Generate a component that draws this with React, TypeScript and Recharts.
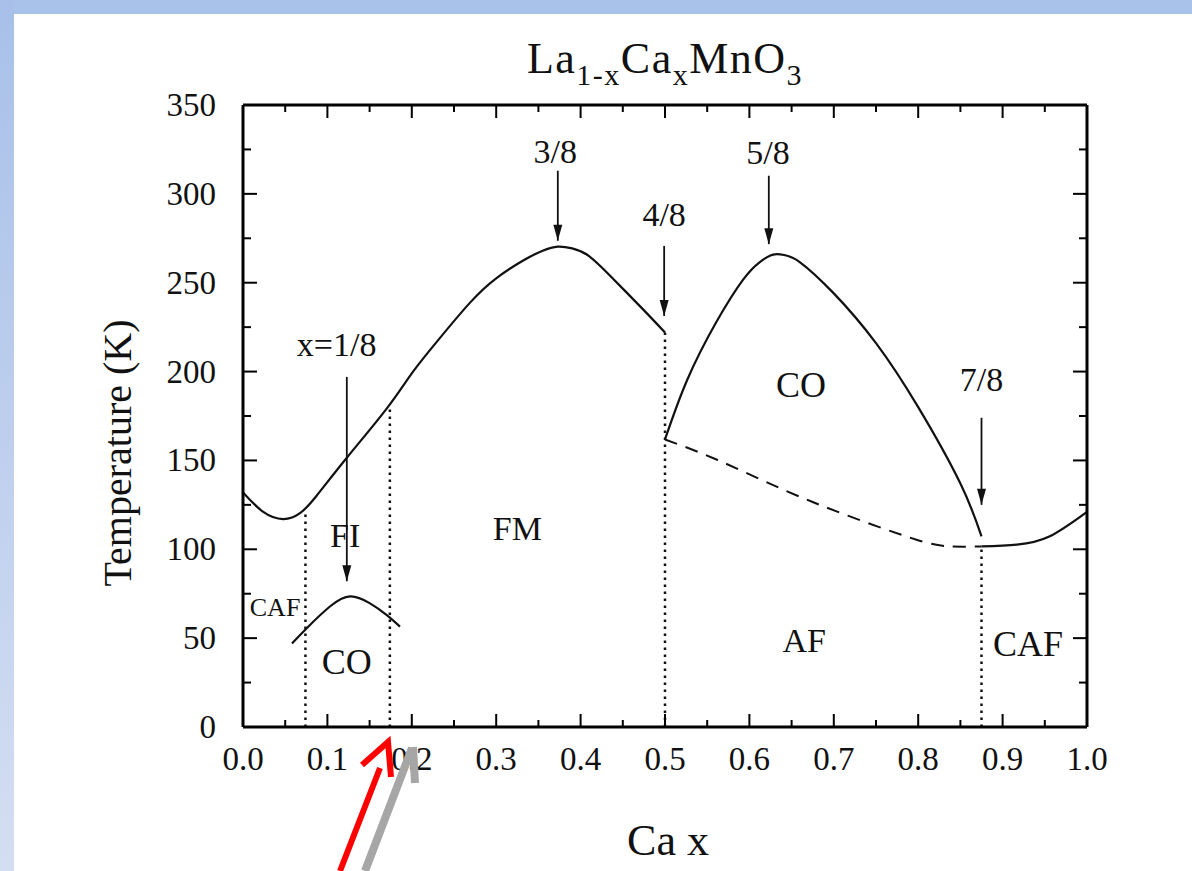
import React from "react";
import { LineChart, Line, XAxis, YAxis, ReferenceLine, ReferenceDot } from "recharts";

const FONT = "'Liberation Serif', 'Times New Roman', serif";

// axis ticks
const xTicks = [0, 0.05, 0.1, 0.15, 0.2, 0.25, 0.3, 0.35, 0.4, 0.45, 0.5, 0.55, 0.6, 0.65, 0.7, 0.75, 0.8, 0.85, 0.9, 0.95, 1.0];
const xMajor = [0, 0.1, 0.2, 0.3, 0.4, 0.5, 0.6, 0.7, 0.8, 0.9, 1.0];
const yTicks = [0, 25, 50, 75, 100, 125, 150, 175, 200, 225, 250, 275, 300, 325, 350];
const yMajor = [0, 50, 100, 150, 200, 250, 300, 350];

// phase boundaries (x = Ca content, t = temperature K)
const fmBoundary = [
  { x: 0, t: 132 }, { x: 0.024, t: 121 }, { x: 0.048, t: 117 }, { x: 0.068, t: 120.5 },
  { x: 0.087, t: 130 }, { x: 0.123, t: 151.5 }, { x: 0.17, t: 179 }, { x: 0.2, t: 199 },
  { x: 0.23, t: 217 }, { x: 0.269, t: 238.8 }, { x: 0.3, t: 252.5 }, { x: 0.332, t: 262.5 },
  { x: 0.355, t: 268 }, { x: 0.373, t: 270.3 }, { x: 0.39, t: 269.3 }, { x: 0.41, t: 265 },
  { x: 0.439, t: 252 }, { x: 0.474, t: 235 }, { x: 0.5, t: 222 },
];
const coLowDome = [
  { x: 0.058, t: 47 }, { x: 0.0755, t: 55.6 }, { x: 0.103, t: 67.8 }, { x: 0.127, t: 73.5 },
  { x: 0.15, t: 69.7 }, { x: 0.17, t: 63.1 }, { x: 0.186, t: 56.5 },
];
const coHighDome = [
  { x: 0.5, t: 161.8 }, { x: 0.526, t: 195 }, { x: 0.561, t: 228 }, { x: 0.593, t: 252 },
  { x: 0.612, t: 261.5 }, { x: 0.628, t: 265.8 }, { x: 0.642, t: 265.5 }, { x: 0.66, t: 261.5 },
  { x: 0.7, t: 244 }, { x: 0.75, t: 216 }, { x: 0.8, t: 180 }, { x: 0.85, t: 137 },
  { x: 0.875, t: 107.3 },
];
const cafBoundary = [
  { x: 0.875, t: 101.6 }, { x: 0.917, t: 102.6 }, { x: 0.956, t: 107.3 }, { x: 1.0, t: 121 },
];
const afBoundary = [
  { x: 0.5, t: 161.8 }, { x: 0.561, t: 150.5 }, { x: 0.64, t: 133.6 }, { x: 0.719, t: 118.5 },
  { x: 0.798, t: 105.4 }, { x: 0.838, t: 101.6 }, { x: 0.875, t: 101.6 },
];

// dotted vertical phase separators: x and top temperature
const separators = [
  { x: 0.074, top: 120 },
  { x: 0.174, top: 180 },
  { x: 0.5, top: 222 },
  { x: 0.875, top: 101 },
];

// arrows at commensurate fillings
const arrows = [
  { x: 0.123, from: 197, to: 82 },
  { x: 0.373, from: 313, to: 273.6 },
  { x: 0.499, from: 270.7, to: 231.3 },
  { x: 0.623, from: 310.2, to: 271.7 },
  { x: 0.875, from: 174, to: 125 },
];

// text annotations
const annotations = [
  { x: 0.37, t: 324.3, text: "3/8", size: 34 },
  { x: 0.499, t: 288.6, text: "4/8", size: 34 },
  { x: 0.622, t: 323.4, text: "5/8", size: 34 },
  { x: 0.111, t: 215.3, text: "x=1/8", size: 34 },
  { x: 0.875, t: 195.6, text: "7/8", size: 34 },
  { x: 0.661, t: 192.8, text: "CO", size: 36 },
  { x: 0.325, t: 112, text: "FM", size: 34 },
  { x: 0.121, t: 108.2, text: "FI", size: 34 },
  { x: 0.038, t: 67.9, text: "CAF", size: 26 },
  { x: 0.123, t: 36.8, text: "CO", size: 36 },
  { x: 0.665, t: 49, text: "AF", size: 34 },
  { x: 0.93, t: 47.2, text: "CAF", size: 36 },
];

const isMajorX = (v: number) => xMajor.some((m) => Math.abs(m - v) < 1e-6);
const isMajorY = (v: number) => yMajor.includes(v);

const BottomTick = (props: any) => {
  const { x, y, payload } = props;
  const major = isMajorX(payload.value);
  return (
    <g>
      <line x1={x} y1={y} x2={x} y2={y - (major ? 13 : 7)} stroke="#000" strokeWidth={2} />
      {major && (
        <text x={x} y={y + 43} textAnchor="middle" fontSize={33} fontFamily={FONT} fill="#111">
          {payload.value.toFixed(1)}
        </text>
      )}
    </g>
  );
};

const TopTick = (props: any) => {
  const { x, y, payload } = props;
  const major = isMajorX(payload.value);
  return <line x1={x} y1={y} x2={x} y2={y + (major ? 13 : 7)} stroke="#000" strokeWidth={2} />;
};

const LeftTick = (props: any) => {
  const { x, y, payload } = props;
  const major = isMajorY(payload.value);
  return (
    <g>
      <line x1={x} y1={y} x2={x + (major ? 14 : 8)} y2={y} stroke="#000" strokeWidth={2} />
      {major && (
        <text x={x - 27} y={y + 11} textAnchor="end" fontSize={33} fontFamily={FONT} fill="#111">
          {payload.value}
        </text>
      )}
    </g>
  );
};

const RightTick = (props: any) => {
  const { x, y, payload } = props;
  const major = isMajorY(payload.value);
  return <line x1={x} y1={y} x2={x - (major ? 14 : 8)} y2={y} stroke="#000" strokeWidth={2} />;
};

const ArrowHead = (props: any) => {
  const { cx, cy, index } = props;
  if (index !== 1) return <g key={index} />;
  return <path key={index} d={`M${cx},${cy} L${cx - 4.5},${cy - 16} L${cx + 4.5},${cy - 16} Z`} fill="#111" />;
};

const frame = { stroke: "#000", strokeWidth: 3 };

export default function App() {
  return (
    <div style={{ position: "absolute", left: 0, top: 0, width: 1192, height: 871, background: "#fff", overflow: "hidden" }}>
      <div style={{ position: "absolute", left: 0, top: 0, width: 1192, height: 14, background: "#a9c2ea" }} />
      <div
        style={{
          position: "absolute", left: 0, top: 0, width: 14, height: 871,
          background: "linear-gradient(#a8c0e9, #d4def2)",
        }}
      />
      <div style={{ position: "absolute", left: 0, top: 0 }}>
        <LineChart width={1192} height={871} margin={{ top: 104, right: 104, bottom: 114, left: 183 }}>
          <XAxis
            xAxisId="b" dataKey="x" type="number" domain={[0, 1]} ticks={xTicks} interval={0}
            tickSize={0} tickMargin={0} tick={<BottomTick />} axisLine={frame} height={30} allowDataOverflow
          />
          <XAxis
            xAxisId="t" orientation="top" dataKey="x" type="number" domain={[0, 1]} ticks={xTicks} interval={0}
            tickSize={0} tickMargin={0} tick={<TopTick />} axisLine={frame} height={1} allowDataOverflow
          />
          <YAxis
            yAxisId="l" type="number" domain={[0, 350]} ticks={yTicks} interval={0}
            tickSize={0} tickMargin={0} tick={<LeftTick />} axisLine={frame} width={60} allowDataOverflow
          />
          <YAxis
            yAxisId="r" orientation="right" type="number" domain={[0, 350]} ticks={yTicks} interval={0}
            tickSize={0} tickMargin={0} tick={<RightTick />} axisLine={frame} width={1} allowDataOverflow
          />

          {separators.map((s, i) => (
            <ReferenceLine
              key={`sep${i}`} xAxisId="b" yAxisId="l"
              segment={[{ x: s.x, y: 0 }, { x: s.x, y: s.top }]}
              stroke="#111" strokeWidth={2.5} strokeDasharray="2.5 4.5"
            />
          ))}

          {/* keeps the mirrored top/right frame axes bound to data */}
          <Line xAxisId="t" yAxisId="r" data={cafBoundary} dataKey="t" stroke="none" dot={false} activeDot={false} isAnimationActive={false} />

          <Line xAxisId="b" yAxisId="l" data={fmBoundary} dataKey="t" type="natural" stroke="#111" strokeWidth={2.2} dot={false} isAnimationActive={false} />
          <Line xAxisId="b" yAxisId="l" data={coLowDome} dataKey="t" type="natural" stroke="#111" strokeWidth={2.2} dot={false} isAnimationActive={false} />
          <Line xAxisId="b" yAxisId="l" data={coHighDome} dataKey="t" type="natural" stroke="#111" strokeWidth={2.2} dot={false} isAnimationActive={false} />
          <Line xAxisId="b" yAxisId="l" data={cafBoundary} dataKey="t" type="natural" stroke="#111" strokeWidth={2.2} dot={false} isAnimationActive={false} />
          <Line xAxisId="b" yAxisId="l" data={afBoundary} dataKey="t" type="natural" stroke="#111" strokeWidth={2} strokeDasharray="13 9" dot={false} isAnimationActive={false} />

          {arrows.map((a, i) => (
            <Line
              key={`arr${i}`} xAxisId="b" yAxisId="l" dataKey="t" type="linear"
              data={[{ x: a.x, t: a.from }, { x: a.x, t: a.to }]}
              stroke="#111" strokeWidth={1.8} dot={<ArrowHead />} activeDot={false} isAnimationActive={false}
            />
          ))}

          {annotations.map((a, i) => (
            <ReferenceDot
              key={`ann${i}`} xAxisId="b" yAxisId="l" x={a.x} y={a.t} r={0} fill="none" stroke="none"
              label={{ value: a.text, position: "center", fontSize: a.size, fontFamily: FONT, fill: "#111" }}
            />
          ))}
        </LineChart>
      </div>
      <svg width={1192} height={871} style={{ position: "absolute", left: 0, top: 0, pointerEvents: "none" }}>
        <text x={665} y={73} textAnchor="middle" fontSize={44} fontFamily={FONT} fill="#111" letterSpacing={1.5}>
          La<tspan fontSize={30} dy={12}>1-x</tspan>
          <tspan dy={-12}>Ca</tspan>
          <tspan fontSize={30} dy={12}>x</tspan>
          <tspan dy={-12}>MnO</tspan>
          <tspan fontSize={30} dy={12}>3</tspan>
        </text>
        <text x={131} y={453} textAnchor="middle" fontSize={40} fontFamily={FONT} fill="#111" transform="rotate(-90 131 453)">
          Temperature (K)
        </text>
        <text x={668} y={855} textAnchor="middle" fontSize={44} fontFamily={FONT} fill="#111">
          Ca x
        </text>
        <path d="M365,871 L412,748 M413,747 L415,783" stroke="#a6a6a6" strokeWidth={8} fill="none" />
        <path d="M340,871 L380,768 M362,765 L388,742 L391,777" stroke="#ff0000" strokeWidth={6} fill="none" />
      </svg>
    </div>
  );
}
